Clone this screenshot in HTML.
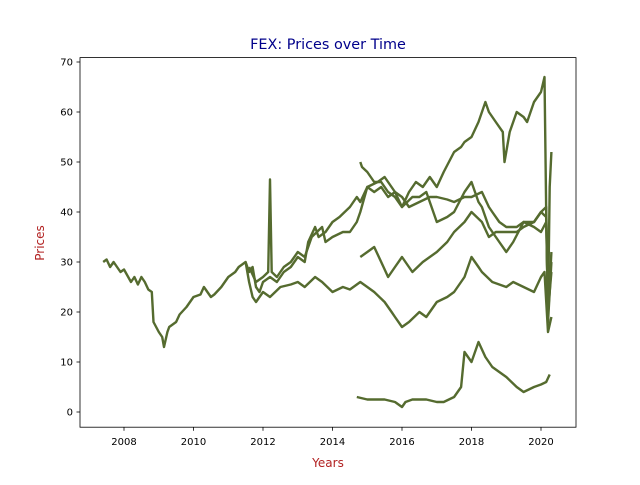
<!DOCTYPE html>
<html><head><meta charset="utf-8"><style>
body{margin:0;background:#fff;font-family:"Liberation Sans","DejaVu Sans",sans-serif}
</style></head><body>
<svg id="chart" width="640" height="480" xmlns="http://www.w3.org/2000/svg" style="font-family:'DejaVu Sans','Liberation Sans',sans-serif">
<rect width="640" height="480" fill="#fff"/>
<text x="328" y="49" text-anchor="middle" font-size="14.4" fill="#00008b">FEX: Prices over Time</text>
<text x="328" y="467" text-anchor="middle" font-size="12" fill="#b22222">Years</text>
<text x="44" y="243" text-anchor="middle" font-size="12" fill="#b22222" transform="rotate(-90 44 243)">Prices</text>
<g id="series"></g>
<g id="axes"></g>
<rect x="80" y="57.6" width="496" height="369.6" fill="none" stroke="#000" stroke-width="0.8"/>
</svg>
<script>
const xTicks=[2008,2010,2012,2014,2016,2018,2020];
const yTicks=[0,10,20,30,40,50,60,70];
const seriesA=[[2007.4,30],[2007.5,30.5],[2007.6,29],[2007.7,30],[2007.9,28],[2008.0,28.5],[2008.2,26],[2008.3,27],[2008.4,25.5],[2008.5,27],[2008.6,26],[2008.7,24.5],[2008.8,24],[2008.85,18],[2009.0,16],[2009.1,15],[2009.15,13],[2009.25,16],[2009.3,17],[2009.5,18],[2009.6,19.5],[2009.8,21],[2010.0,23],[2010.2,23.5],[2010.3,25],[2010.5,23],[2010.6,23.5],[2010.8,25],[2011.0,27],[2011.2,28],[2011.3,29],[2011.5,30],[2011.6,28],[2011.7,29],[2011.8,25],[2011.9,24],[2012.0,26],[2012.2,27],[2012.4,26],[2012.6,28],[2012.8,29],[2013.0,31],[2013.2,30],[2013.3,34],[2013.5,37],[2013.6,35],[2013.8,36],[2014.0,38],[2014.2,39],[2014.5,41],[2014.7,43],[2014.8,42],[2015.0,45],[2015.2,44],[2015.4,45],[2015.6,43],[2015.8,44],[2016.0,41],[2016.2,44],[2016.4,46],[2016.6,45],[2016.8,47],[2017.0,45],[2017.2,48],[2017.5,52],[2017.7,53],[2017.8,54],[2018.0,55],[2018.2,58],[2018.4,62],[2018.5,60],[2018.7,58],[2018.9,56],[2018.95,50],[2019.1,56],[2019.3,60],[2019.5,59],[2019.6,58],[2019.8,62],[2020.0,64],[2020.1,67],[2020.15,40],[2020.2,20],[2020.25,45],[2020.3,52]];
const seriesB=[[2011.5,30],[2011.6,26],[2011.7,23],[2011.8,22],[2012.0,24],[2012.2,23],[2012.5,25],[2012.8,25.5],[2013.0,26],[2013.2,25],[2013.5,27],[2013.7,26],[2014.0,24],[2014.3,25],[2014.5,24.5],[2014.8,26],[2015.0,25],[2015.2,24],[2015.5,22],[2015.7,20],[2015.8,19],[2016.0,17],[2016.2,18],[2016.5,20],[2016.7,19],[2017.0,22],[2017.3,23],[2017.5,24],[2017.8,27],[2018.0,31],[2018.2,29],[2018.3,28],[2018.6,26],[2018.8,25.5],[2019.0,25],[2019.2,26],[2019.5,25],[2019.8,24],[2020.0,27],[2020.1,28],[2020.2,16],[2020.3,19]];
const seriesC=[[2011.6,29],[2011.8,26],[2012.0,27],[2012.15,28],[2012.2,46.5],[2012.25,28],[2012.4,27],[2012.6,29],[2012.8,30],[2013.0,32],[2013.2,31],[2013.4,35],[2013.7,37],[2013.8,34],[2014.0,35],[2014.3,36],[2014.5,36],[2014.7,38],[2014.8,40],[2015.0,45],[2015.3,46],[2015.5,47],[2015.8,44],[2016.0,43],[2016.2,41],[2016.5,42],[2016.8,43],[2017.0,43],[2017.3,42.5],[2017.5,42],[2017.8,43],[2018.0,43],[2018.3,44],[2018.5,41],[2018.6,40],[2018.8,38],[2019.0,37],[2019.3,37],[2019.5,38],[2019.8,38],[2020.0,40],[2020.15,41],[2020.2,18],[2020.3,30]];
const seriesD=[[2014.8,50],[2014.85,49],[2015.0,48],[2015.2,46],[2015.4,46],[2015.6,44],[2015.8,43],[2016.0,41],[2016.3,43],[2016.5,43],[2016.7,44],[2016.9,40],[2017.0,38],[2017.3,39],[2017.5,40],[2017.8,44],[2018.0,46],[2018.2,42],[2018.3,41],[2018.5,37],[2018.8,34],[2019.0,32],[2019.2,34],[2019.5,38],[2019.8,37],[2020.0,36],[2020.15,38],[2020.2,20],[2020.3,28]];
const seriesE=[[2014.8,31],[2015.0,32],[2015.2,33],[2015.4,30],[2015.6,27],[2015.8,29],[2016.0,31],[2016.3,28],[2016.6,30],[2016.8,31],[2017.0,32],[2017.3,34],[2017.5,36],[2017.8,38],[2018.0,40],[2018.3,38],[2018.5,35],[2018.7,36],[2019.0,36],[2019.3,36],[2019.5,37],[2019.8,38],[2020.0,40],[2020.15,39],[2020.2,19],[2020.3,32]];
const seriesF=[[2014.7,3],[2015.0,2.5],[2015.5,2.5],[2015.8,2],[2016.0,1],[2016.1,2],[2016.3,2.5],[2016.7,2.5],[2017.0,2],[2017.2,2],[2017.5,3],[2017.7,5],[2017.8,12],[2018.0,10],[2018.2,14],[2018.4,11],[2018.6,9],[2018.8,8],[2019.0,7],[2019.3,5],[2019.5,4],[2019.8,5],[2020.0,5.5],[2020.15,6],[2020.25,7.5]];
const allSeries=[seriesA,seriesB,seriesC,seriesD,seriesE,seriesF];
const NS='http://www.w3.org/2000/svg';
function xs(v){return 124+(v-2008)*(417/12);}
function ys(v){return 412-v*5;}
const sg=document.getElementById('series');
allSeries.forEach((s,i)=>{
  const p=document.createElementNS(NS,'polyline');
  p.setAttribute('points',s.map(d=>xs(d[0]).toFixed(1)+','+ys(d[1]).toFixed(1)).join(' '));
  p.setAttribute('fill','none');p.setAttribute('stroke','#556b2f');p.setAttribute('stroke-width','2.4');p.setAttribute('stroke-linejoin','round');
  
  
  sg.appendChild(p);
});
const ag=document.getElementById('axes');
xTicks.forEach(t=>{
  const x=xs(t);
  const l=document.createElementNS(NS,'line');
  l.setAttribute('x1',x);l.setAttribute('x2',x);l.setAttribute('y1',427.2);l.setAttribute('y2',430.7);l.setAttribute('stroke','#000');l.setAttribute('stroke-width','0.8');
  
  
  ag.appendChild(l);
  const tx=document.createElementNS(NS,'text');
  tx.setAttribute('x',x);tx.setAttribute('y',445);tx.setAttribute('text-anchor','middle');tx.setAttribute('font-size','10');
  tx.textContent=t;
  
  
  ag.appendChild(tx);
});
yTicks.forEach(t=>{
  const y=ys(t);
  const l=document.createElementNS(NS,'line');
  l.setAttribute('x1',76.5);l.setAttribute('x2',80);l.setAttribute('y1',y);l.setAttribute('y2',y);l.setAttribute('stroke','#000');l.setAttribute('stroke-width','0.8');
  
  
  ag.appendChild(l);
  const tx=document.createElementNS(NS,'text');
  tx.setAttribute('x',73);tx.setAttribute('y',y+3.6);tx.setAttribute('text-anchor','end');tx.setAttribute('font-size','10');
  tx.textContent=t;
  
  
  ag.appendChild(tx);
});
</script>
</body></html>
